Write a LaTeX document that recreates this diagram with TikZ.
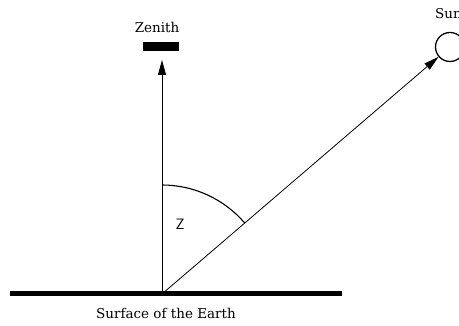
\documentclass[tikz,border=0pt]{standalone}
\usepackage{fontspec}
\newfontfamily\labelfont{DejaVu Serif}
\usepackage{tikz}
\usetikzlibrary{arrows.meta,positioning}

\tikzset{
  label text/.style={font=\labelfont\fontsize{13.5}{16}\selectfont, inner sep=0pt},
  ray/.style={line width=0.8pt, -{Triangle[length=15pt,width=8pt]}}
}

\begin{document}
\begin{tikzpicture}[x=1pt,y=1pt]
  \useasboundingbox (0,0) rectangle (459,326);
  % ground and observer
  \coordinate (foot) at (162,32);
  \draw[line width=5pt] (10,32) -- (342,32);
  \node[label text] (surface) at (166,13) {Surface of the Earth};
  % zenith
  \fill (143,275) rectangle (179,284);
  \node[label text] (zenith) at (157,299) {Zenith};
  \coordinate (up) at (162,266);
  \draw[ray] (foot) -- (up);
  % sun
  \node[draw, circle, line width=1.3pt, minimum size=29pt, inner sep=0pt] (sun) at (450,279) {};
  \node[label text, anchor=west] (sunlabel) at (435,312) {Sun};
  \draw[ray] (foot) -- (sun);
  % zenith angle
  \draw[line width=1.1pt] (foot) ++(90:109) arc[start angle=90, end angle=40.6, radius=109];
  \node[font=\sffamily\fontsize{15}{17}\selectfont] (z) at (180,102) {Z};
\end{tikzpicture}
\end{document}
